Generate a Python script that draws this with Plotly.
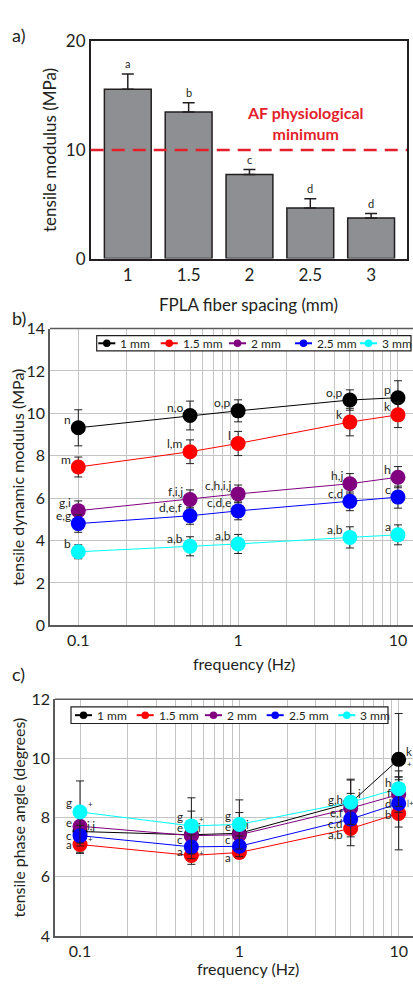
import numpy as np
import plotly.graph_objects as go

W, H = 413, 987
FONT = "Lato"
INK = "#231f20"

# ---------------- data ----------------
spacing = ["1", "1.5", "2", "2.5", "3"]
modulus = [15.6, 13.5, 7.75, 4.65, 3.75]
modulus_err = [1.4, 0.85, 0.45, 0.85, 0.4]
modulus_letters = ["a", "b", "c", "d", "d"]
af_minimum = 10

freq = [0.1, 0.5, 1, 5, 10]
series = ["1 mm", "1.5 mm", "2 mm", "2.5 mm", "3 mm"]
colors = ["#000000", "#ff0000", "#800080", "#0000ff", "#00ffff"]

dyn_1 = [9.32, 9.90, 10.12, 10.63, 10.74]
dyn_15 = [7.47, 8.19, 8.58, 9.59, 9.93]
dyn_2 = [5.41, 5.94, 6.20, 6.68, 6.99]
dyn_25 = [4.80, 5.17, 5.40, 5.85, 6.05]
dyn_3 = [3.47, 3.73, 3.84, 4.15, 4.27]
dyn_err_1 = [0.85, 0.68, 0.52, 0.48, 0.80]
dyn_err_15 = [0.47, 0.56, 0.57, 0.65, 0.60]
dyn_err_2 = [0.46, 0.45, 0.42, 0.48, 0.50]
dyn_err_25 = [0.41, 0.40, 0.42, 0.44, 0.52]
dyn_err_3 = [0.33, 0.45, 0.45, 0.50, 0.47]
dyn_letters_1 = ["n", "n,o", "o,p", "o,p", "p"]
dyn_letters_15 = ["m", "l,m", "l", "k", "k"]
dyn_letters_2 = ["g,i", "f,i,j", "c,h,i,j", "h,j", "h"]
dyn_letters_25 = ["e,g", "d,e,f", "c,d,e", "c,d", "c"]
dyn_letters_3 = ["b", "a,b", "a,b", "a,b", "a"]

ph_1 = [7.53, 7.42, 7.47, 8.50, 9.97]
ph_15 = [7.09, 6.72, 6.82, 7.63, 8.14]
ph_2 = [7.71, 7.39, 7.42, 8.32, 8.78]
ph_25 = [7.39, 7.01, 7.03, 7.95, 8.48]
ph_3 = [8.19, 7.72, 7.77, 8.52, 8.98]
ph_err_1 = [0.70, 0.80, 0.70, 0.80, 1.55]
ph_err_15 = [0.30, 0.30, 0.20, 0.58, 1.23]
ph_err_2 = [0.40, 0.40, 0.40, 0.50, 0.60]
ph_err_25 = [0.35, 0.40, 0.35, 0.60, 0.80]
ph_err_3 = [1.05, 0.95, 0.83, 0.75, 0.60]
ph_letters_1 = ["", "", "", "", ""]
ph_letters_15 = ["a", "a", "a", "a,b", "b"]
ph_letters_2 = ["e", "e", "e", "e,f", "f"]
ph_letters_25 = ["c", "c", "c", "c,d", "d"]
ph_letters_3 = ["g", "g", "g", "g,h", "h"]
ph_right_1 = ["", "", "", "", "k"]
ph_right_2 = ["i,j", "", "", "", ""]
ph_right_3 = ["", "i", "i", "i", ""]
ph_plus_1 = ["", "", "", "", "+"]
ph_plus_15 = ["+", "+", "", "", ""]
ph_plus_25 = ["", "", "", "", "|+"]
ph_plus_3 = ["+", "+", "", "", ""]

dyn_vals = [dyn_1, dyn_15, dyn_2, dyn_25, dyn_3]
dyn_errs = [dyn_err_1, dyn_err_15, dyn_err_2, dyn_err_25, dyn_err_3]
dyn_lets = [dyn_letters_1, dyn_letters_15, dyn_letters_2, dyn_letters_25, dyn_letters_3]
ph_vals = [ph_1, ph_15, ph_2, ph_25, ph_3]
ph_errs = [ph_err_1, ph_err_15, ph_err_2, ph_err_25, ph_err_3]
ph_lets = [ph_letters_1, ph_letters_15, ph_letters_2, ph_letters_25, ph_letters_3]
ph_rights = [ph_right_1, ["", "", "", "", ""], ph_right_2, ["", "", "", "", ""], ph_right_3]
ph_pluses = [ph_plus_1, ph_plus_15, ["", "", "", "", ""], ph_plus_25, ph_plus_3]

# label vertical nudges (style) for panel c, per series / point
ph_let_shift = [[0] * 5, [0, 4, -5, -6, -1], [4, 8, 8, -4, 2], [0, 7, 7, -4, 0], [9, 9, 9, 3, 6]]
ph_right_shift = [[0, 0, 0, 0, 8], [0] * 5, [1, 0, 0, 0, 0], [0] * 5, [0, -2, 0, 9, 0]]
ph_plus_shift = [[0, 0, 0, 0, -5], [6, 2, 0, 0, 0], [0] * 5, [0, 0, 0, 0, 0], [8, 7, 0, 0, 0]]

# legend layout (pixel x of each entry's symbol start)
legend_b_x = [98.3, 160.7, 229, 295, 360]
legend_c_x = [75, 136.7, 205, 266.7, 338.3]


def px(x):
    return x / W


def py(y):
    return 1 - y / H


fig = go.Figure()
ann = []
shapes = []

# ---------------- panel a ----------------
idx = list(range(len(spacing)))
fig.add_trace(go.Bar(
    x=idx, y=modulus, width=0.77, xaxis="x", yaxis="y",
    marker=dict(color="#8d8f92", line=dict(color=INK, width=1.5)),
    error_y=dict(type="data", array=modulus_err, arrayminus=[0] * len(modulus),
                 symmetric=False, color=INK, thickness=1.5, width=6),
    showlegend=False,
))
for i, (v, e, t) in enumerate(zip(modulus, modulus_err, modulus_letters)):
    ann.append(dict(x=i, y=v + e, xref="x", yref="y", text=t, showarrow=False,
                    yanchor="middle", yshift=10, font=dict(size=11, color=INK, family=FONT)))
shapes.append(dict(type="line", xref="x domain", yref="y", x0=0, x1=1,
                   y0=af_minimum, y1=af_minimum,
                   line=dict(color="#e41e2b", width=2.5, dash="13px,8px")))
ann.append(dict(x=px(305), y=py(114), xref="paper", yref="paper",
                xanchor="center", yanchor="middle",
                text="<b>AF physiological<br>minimum</b>", showarrow=False,
                font=dict(size=16, color="#e41e2b", family=FONT)))

# ---------------- panel b ----------------
for s, c, vals, errs, lets in zip(series, colors, dyn_vals, dyn_errs, dyn_lets):
    fig.add_trace(go.Scatter(
        x=freq, y=vals, xaxis="x2", yaxis="y2", mode="lines+markers", name=s,
        line=dict(color=c, width=1), marker=dict(color=c, size=15),
        error_y=dict(type="data", array=errs, color=INK, thickness=1, width=4),
        showlegend=False,
    ))
    for f, v, t in zip(freq, vals, lets):
        if t:
            ann.append(dict(x=np.log10(f), y=v, xref="x2", yref="y2", text=t,
                            showarrow=False, xanchor="right", yanchor="middle",
                            xshift=-5, yshift=8,
                            font=dict(size=12, color=INK, family=FONT)))

# ---------------- panel c ----------------
for k, (s, c, vals, errs) in enumerate(zip(series, colors, ph_vals, ph_errs)):
    fig.add_trace(go.Scatter(
        x=freq, y=vals, xaxis="x3", yaxis="y3", mode="lines+markers", name=s,
        line=dict(color=c, width=1), marker=dict(color=c, size=15),
        error_y=dict(type="data", array=errs, color=INK, thickness=1, width=4),
        showlegend=False,
    ))
    for i, (f, v) in enumerate(zip(freq, vals)):
        t = ph_lets[k][i]
        if t:
            ann.append(dict(x=np.log10(f), y=v, xref="x3", yref="y3", text=t,
                            showarrow=False, xanchor="right", yanchor="middle",
                            xshift=-6, yshift=ph_let_shift[k][i],
                            font=dict(size=11.5, color=INK, family=FONT)))
        t = ph_rights[k][i]
        if t:
            ann.append(dict(x=np.log10(f), y=v, xref="x3", yref="y3", text=t,
                            showarrow=False, xanchor="left", yanchor="middle",
                            xshift=5, yshift=ph_right_shift[k][i],
                            font=dict(size=11.5, color=INK, family=FONT)))
        t = ph_pluses[k][i]
        if t:
            ann.append(dict(x=np.log10(f), y=v, xref="x3", yref="y3", text=t,
                            showarrow=False, xanchor="left", yanchor="middle",
                            xshift=6, yshift=ph_plus_shift[k][i],
                            font=dict(size=8, color=INK, family=FONT)))


# ---------------- manual legends ----------------
def add_legend(box, xs):
    x0, x1, y0, y1 = box
    yc = (y0 + y1) / 2
    shapes.append(dict(type="rect", xref="paper", yref="paper",
                       x0=px(x0), x1=px(x1), y0=py(y1), y1=py(y0),
                       line=dict(color=INK, width=1.2), fillcolor="white"))
    for x, s, c in zip(xs, series, colors):
        shapes.append(dict(type="line", xref="paper", yref="paper",
                           x0=px(x), x1=px(x + 17), y0=py(yc), y1=py(yc),
                           line=dict(color=c, width=2)))
        shapes.append(dict(type="circle", xref="paper", yref="paper",
                           xsizemode="pixel", ysizemode="pixel",
                           xanchor=px(x + 8.5), yanchor=py(yc),
                           x0=-3.8, x1=3.8, y0=-3.8, y1=3.8,
                           fillcolor=c, line=dict(color=c, width=0)))
        ann.append(dict(x=px(x + 20), y=py(yc), xref="paper", yref="paper",
                        text=s, showarrow=False, xanchor="left", yanchor="middle",
                        font=dict(size=12, color=INK, family=FONT)))


add_legend((96.7, 411, 331.7, 347.3), legend_b_x)
add_legend((71, 388, 711, 728), legend_c_x)


# ---------------- axis titles & panel labels ----------------
def text(x, y, t, size=16, angle=0):
    ann.append(dict(x=px(x), y=py(y), xref="paper", yref="paper", text=t,
                    showarrow=False, textangle=angle, xanchor="center", yanchor="middle",
                    font=dict(size=size, color=INK, family=FONT)))


text(18, 25, "a)", 18)
text(19, 314, "b)", 18)
text(18, 677, "c)", 18)
text(50, 142, "tensile modulus (MPa)", 17, -90)
text(248, 300, "FPLA fiber spacing (mm)", 17)
text(18, 477, "tensile dynamic modulus (MPa)", 16, -90)
text(244, 667, "frequency (Hz)", 16)
text(18, 824, "tensile phase angle (degrees)", 16, -90)
text(248, 978, "frequency (Hz)", 16)

# top frame lines for b and c
shapes.append(dict(type="line", xref="x2 domain", yref="y2 domain", x0=0, x1=1, y0=1, y1=1,
                   line=dict(color="#5a5a5a", width=1.5)))
shapes.append(dict(type="line", xref="x3 domain", yref="y3 domain", x0=0, x1=1, y0=1, y1=1,
                   line=dict(color="#5a5a5a", width=1.5)))

grid_vals = [m * 10.0 ** d for d in (-1, 0) for m in range(1, 10)] + [10]
grid_text = ["0.1" if v == 0.1 else "1" if v == 1 else "10" if v == 10 else "" for v in grid_vals]

tickfont = dict(size=16, color=INK, family=FONT)
log_axis = dict(type="log", tickvals=grid_vals, ticktext=grid_text, showgrid=True,
                gridcolor="#c4c4c4", gridwidth=1, showline=True, linecolor="#5a5a5a",
                linewidth=1.5, ticks="", tickfont=tickfont, zeroline=False)

fig.update_layout(
    width=W, height=H, margin=dict(l=0, r=0, t=0, b=0),
    paper_bgcolor="white", plot_bgcolor="white",
    font=dict(family=FONT, color=INK),
    xaxis=dict(domain=[px(90.7), px(407)], anchor="y", range=[-0.61, 4.59],
               tickvals=idx, ticktext=spacing, showline=True, mirror=True,
               linecolor=INK, linewidth=1.5, ticks="", showgrid=False,
               zeroline=False, tickfont=dict(size=17, color=INK, family=FONT)),
    yaxis=dict(domain=[py(253), py(31)], anchor="x", range=[0, 20],
               tickvals=[0, 10, 20], showline=True, mirror=True, linecolor=INK,
               linewidth=1.5, ticks="", showgrid=False, zeroline=False,
               tickfont=dict(size=17, color=INK, family=FONT)),
    xaxis2=dict(domain=[px(50), 1], anchor="y2", range=[-1.177, 1.094], **log_axis),
    yaxis2=dict(domain=[py(627.7), py(324.5)], anchor="x2", range=[0, 14],
                tickvals=list(range(0, 15, 2)), showgrid=True, gridcolor="#c4c4c4",
                showline=True, linecolor="#5a5a5a", linewidth=1.5, ticks="",
                zeroline=False, tickfont=tickfont),
    xaxis3=dict(domain=[px(55), 1], anchor="y3", range=[-1.157, 1.09], **log_axis),
    yaxis3=dict(domain=[py(945), py(703.3)], anchor="x3", range=[4, 12],
                tickvals=[4, 6, 8, 10, 12], showgrid=True, gridcolor="#c4c4c4",
                showline=True, linecolor="#5a5a5a", linewidth=1.5, ticks="",
                zeroline=False, tickfont=tickfont),
    annotations=ann,
    shapes=shapes,
)

fig.write_html(
    "out.html",
    config={"displayModeBar": False},
    post_script="document.body.style.margin='0';document.body.style.padding='0';"
                "document.documentElement.style.overflow='hidden';",
)
